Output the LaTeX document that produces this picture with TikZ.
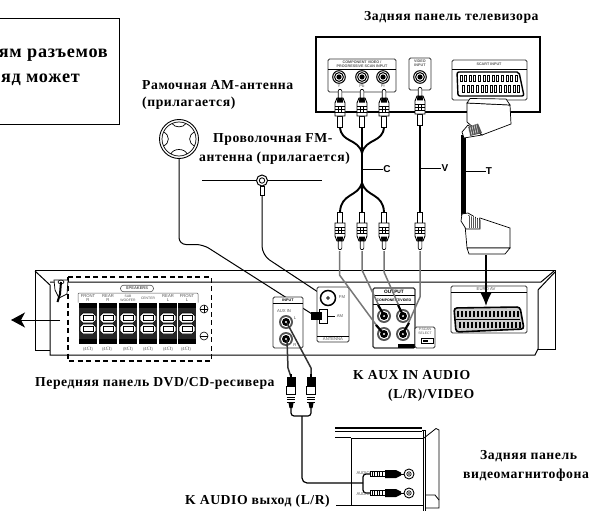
\documentclass[tikz,border=0pt]{standalone}
\usepackage{fontspec}
\setmainfont{Liberation Serif}
\setsansfont{Liberation Sans}
\newfontfamily\lblfont[LetterSpace=4]{Liberation Serif}
\usetikzlibrary{arrows.meta}
\definecolor{wiregray}{HTML}{777777}
\definecolor{panelgray}{HTML}{555555}
\tikzset{
  x=1pt,y=-1pt,
  lbl/.style={font=\lblfont\bfseries\fontsize{13.7}{15}\selectfont,text=black,inner sep=0pt,anchor=west},
  big/.style={font=\lblfont\bfseries\fontsize{18.2}{20}\selectfont,text=black,inner sep=0pt,anchor=east},
  cab/.style={font=\sffamily\bfseries\fontsize{10}{11}\selectfont,inner sep=0pt},
  tiny/.style={font=\sffamily\fontsize{4.2}{4.2}\selectfont,inner sep=0pt,align=center,text=panelgray},
  tinyb/.style={font=\sffamily\bfseries\fontsize{3.7}{3.9}\selectfont,inner sep=0pt,align=center},
  body/.style={draw=black,line width=1pt},
  panel/.style={draw=black!80,fill=white,line width=.8pt,rounded corners=1.5pt},
  graywire/.style={draw=wiregray,line width=1.5pt},
  wire/.style={draw=black,line width=1pt},
  blackwire/.style={draw=black,line width=1.9pt},
  plugend/.style={draw=black,line width=2.2pt},
  rca/.pic={
    \draw[fill=white,line width=.6pt] (-2.7,0) rectangle (2.7,11);
    \draw[fill=white,line width=.9pt] (-5,11) -- (5,11) -- (5,24) -- (3,29) -- (-3,29) -- (-5,24) -- cycle;
    \draw[line width=.7pt] (-5,15) -- (5,15) (-5,18) -- (5,18) (-5,21) -- (5,21);
    \draw[line width=.5pt] (-1.7,15) -- (-1.7,21) (1.7,15) -- (1.7,21);
    \fill (-3,24.5) -- (3,24.5) -- (2.6,29) -- (-2.6,29) -- cycle;
    \draw[fill=white,line width=.6pt] (-1.8,29) -- (1.8,29) -- (1.8,36) -- (1,37.5) -- (-1,37.5) -- (-1.8,36) -- cycle;
  },
  rcadark/.pic={
    \fill (-1,-3) rectangle (1,0);
    \fill (-4.5,0) rectangle (4.5,9);
    \draw[fill=white,line width=.6pt] (-4.5,9) rectangle (4.5,17);
    \foreach \ry in {17.5,20,22.5,25}{\draw[line width=1pt] (-4.2,\ry) -- (4.2,\ry);}
    \fill (-2.5,26) -- (2.5,26) -- (1.5,31) -- (-1.5,31) -- cycle;
  },
  jack/.pic={
    \draw[fill=white,line width=1pt] (0,0) circle (6.3);
    \draw[line width=1pt] (0,0) circle (4.4);
    \fill (0,0) circle (2.6);
  },
  jackb/.pic={
    \fill[panelgray] (0,0) circle (7);
    \fill[white] (0,0) circle (5.2);
    \fill[black] (0,0) circle (4);
    \fill[white] (0,0) circle (1.2);
  },
  terminal/.pic={
    \fill[black!85] (-8.7,0) rectangle (8.7,41);
    \fill[black] (-8.7,0) rectangle (8.7,5);
    \fill[black] (-8.7,36) rectangle (8.7,41);
    \foreach \ry in {10,21}{
      \draw[fill=white,draw=black,line width=.7pt] (-8,\ry+3) -- (-5,\ry) -- (5,\ry) -- (8,\ry+3) -- (8,\ry+7) -- (5,\ry+10) -- (-5,\ry+10) -- (-8,\ry+7) -- cycle;
      \draw[fill=white,line width=.9pt] (-5,\ry+2.8) rectangle (5,\ry+7.2);
    }
  },
}
\begin{document}
\begin{tikzpicture}
\useasboundingbox (0,0) rectangle (592,511);

% cropped note box
\draw[line width=.8pt] (0,18) -- (119,18) -- (119,124) -- (0,124);
\node[big] (note1) at (108,55) {ям разъемов};
\node[big] (note2) at (80,80) {яд может};

% labels
\node[lbl] (tvlabel) at (364,17) {Задняя панель телевизора};
\node[lbl] (amlabel1) at (142,85) {Рамочная AM-антенна};
\node[lbl] (amlabel2) at (142,103) {(прилагается)};
\node[lbl] (fmlabel1) at (213,139) {Проволочная FM-};
\node[lbl] (fmlabel2) at (199,158) {антенна (прилагается)};
\node[lbl] (frontlabel) at (35,383) {Передняя панель DVD/CD-ресивера};
\node[lbl] (auxlabel1) at (353,375) {K AUX IN AUDIO};
\node[lbl] (auxlabel2) at (388,395) {(L/R)/VIDEO};
\node[lbl] (vcrlabel1) at (480,456) {Задняя панель};
\node[lbl] (vcrlabel2) at (463,475) {видеомагнитофона};
\node[lbl,anchor=east] (audiolabel) at (330,501) {K AUDIO выход (L/R)};

% TV panel
\draw[line width=1.2pt] (316,37) rectangle (540,112);
\node[panel,minimum width=68pt,minimum height=33pt] (compbox) at (362,75.5) {};
\draw[line width=.6pt] (328,69) -- (396,69);
\node[tinyb,text=panelgray] (compt) at (362,64.5) {COMPONENT VIDEO /\\PROGRESSIVE SCAN INPUT};
\node[panel,minimum width=22pt,minimum height=32pt] (videobox) at (420,74) {};
\node[tinyb,text=panelgray] (videot) at (420,63) {VIDEO\\INPUT};
\node[panel,minimum width=75pt,minimum height=40pt] (scartbox) at (489.5,80) {};
\draw[line width=.6pt] (452,69.5) -- (527,69.5);
\node[tinyb,text=panelgray] (scartt) at (489,64.5) {SCART INPUT};
\draw[line width=1.4pt,rounded corners=2pt,fill=white] (457,72) -- (519,72) -- (524,96) -- (458,96) -- cycle;
\foreach \px in {461,465.6,470.2,474.8,479.4,484,488.6,493.2,497.8,502.4,507,511.6,516}{
  \draw[line width=.8pt,fill=white] (\px-1,75) rectangle (\px+1,81);
}
\foreach \px in {463.5,468.1,472.7,477.3,481.9,486.5,491.1,495.7,500.3,504.9,509.5,514.1,518.7}{
  \draw[line width=.8pt,fill=white] (\px-1,85) rectangle (\px+1,92);
}
\pic at (339,77) {jack};
\pic at (362,77) {jack};
\pic at (383,77) {jack};
\pic at (420,77) {jack};
\node[tiny] (ty) at (339,86) {Y};
\node[tiny] (tpb) at (362,86) {Pb};
\node[tiny] (tpr) at (383,86) {Pr};

% Receiver body
\draw[body] (35,350) -- (35,270) -- (555,270) -- (555,349) -- (538,349);
\draw[body] (35,350) -- (50,350);
\draw[body] (35,271) -- (50,285) -- (50,355) -- (535,355) -- (538,349) -- (538,290) -- (555,272);
\draw[body] (50,282) -- (541,282) -- (554,271);

% Antenna wires (behind panels)
\coordinate (amstem) at (179,158);
\coordinate (fmstem) at (262,195);
\coordinate (amplug) at (312,314);
\coordinate (fmplug) at (327,298);

\draw[wire,rounded corners=7pt] (amstem) -- (179,244.5) -- (203,244.5) -- (amplug);
\draw[wire,rounded corners=9pt] (fmstem) -- (262,255) -- (fmplug);

% AM loop
\draw[line width=.9pt,fill=white] (179,139) circle (19.5);
\draw[line width=.7pt] (179,139) circle (17);
\draw[line width=.7pt] (172,123.5) .. controls (175,128) and (183,128) .. (186,123.5);
\draw[line width=.7pt] (171,154) .. controls (173,148) and (185,148) .. (187,154);
\draw[line width=.7pt] (163.5,132) .. controls (170,135) and (170,143) .. (163.5,146);
\draw[line width=.7pt] (194.5,132) .. controls (188,135) and (188,143) .. (194.5,146);
% FM dipole
\draw[line width=1pt] (202,180.5) -- (256,180.5);
\draw[line width=1pt] (268,180.5) -- (322,180.5);
\draw[line width=.8pt,fill=white] (260,186) rectangle (264,195);
\draw[line width=1pt,fill=white] (262,180.5) circle (5.5);
\draw[line width=.8pt] (262,180.5) circle (2.7);

% Input panel
\node[panel,minimum width=30pt,minimum height=51pt] (inputbox) at (288,322.5) {};
\draw[line width=.6pt] (273,303) -- (303,303);
\node[tinyb] (inputt) at (288,300) {INPUT};
\node[tiny] (auxin) at (284,311.5) {AUX IN};
\node[tiny] (auxl) at (295,318) {L};
\node[tiny] (auxr) at (295,345) {R};
\pic at (286,322) {jackb};
\pic at (286,339) {jackb};

% Antenna panel
\node[panel,minimum width=32pt,minimum height=55pt] (antbox) at (333,314.5) {};
\draw[line width=.6pt] (317,336) -- (349,336);
\node[tiny] (antt) at (333,339) {ANTENNA};
\draw[line width=1.5pt,fill=white] (328,298) circle (7.5);
\draw[line width=.7pt] (328,298) circle (1.3);
\node[tiny] (fmt) at (342,297) {FM};
\draw[line width=.6pt,fill=white] (319,309) rectangle (327,323);
\draw[line width=.6pt] (327,316) -- (335,316);
\node[tiny] (amt) at (340,316) {AM};
\fill (311,312) rectangle (322,320);

% Output panel
\node[panel,line width=1.1pt,minimum width=42pt,minimum height=60pt] (outbox) at (394,318) {};
\draw[line width=.8pt] (373,295) -- (415,295);
\draw[line width=.5pt] (373,304) -- (415,304);
\node[tinyb,font=\sffamily\bfseries\fontsize{4.8}{5}\selectfont] (outt) at (394,291.5) {OUTPUT};
\node[tinyb,font=\sffamily\bfseries\fontsize{3.5}{4}\selectfont] (compvt) at (394,300) {COMPONENT/VIDEO};
\fill (398,343.5) rectangle (415,348);
\pic at (384,316) {jackb};
\pic at (403,316) {jackb};
\pic at (384,334) {jackb};
\pic at (403,334) {jackb};
\node[panel,minimum width=20pt,minimum height=21pt] (progbox) at (425,337.5) {};
\node[tiny,font=\sffamily\fontsize{3.4}{3.6}\selectfont] (progt) at (425,331.5) {P.SCAN\\SELECT};
\draw[line width=.6pt,fill=white] (421,338.5) rectangle (433,343);
\fill (423,339.5) rectangle (428,342);

% Receiver SCART
\node[panel,minimum width=76pt,minimum height=47pt] (euro) at (489,309.5) {};
\draw[line width=.7pt] (451,292.5) -- (527,292.5);
\node[tiny] (eurot) at (486,289) {EURO AV};
\draw[line width=1.6pt,fill=gray!40,rounded corners=3pt] (454,308) -- (520,307) -- (524,329) -- (456,332) -- cycle;
\foreach \px in {457,461,...,517}{
  \fill (\px,311) rectangle (\px+2.2,317);
  \fill (\px+2,322) rectangle (\px+4.2,328);
}
\draw[line width=.8pt] (456,319.5) -- (520,319.5);

% Speakers
\draw[dashed,line width=1.1pt,dash pattern=on 5pt off 3.5pt] (68,277) rectangle (211.5,361);
\node[draw=panelgray,rounded corners=3pt,line width=.6pt,minimum width=33pt,minimum height=6.5pt,inner sep=0pt,font=\sffamily\bfseries\fontsize{4}{4}\selectfont,text=panelgray] (spk) at (137,288.5) {SPEAKERS};
\draw[panelgray,line width=.5pt,rounded corners=1pt] (78,302.5) -- (78,293) -- (198,293) -- (198,302.5);
\node[tiny] (s1) at (88,298) {FRONT\\R};
\node[tiny] (s2) at (108,298) {REAR\\R};
\node[tiny,font=\sffamily\fontsize{3.4}{3.8}\selectfont] (s3) at (128,298) {SUB\\WOOFER};
\node[tiny,font=\sffamily\fontsize{3.4}{3.8}\selectfont] (s4) at (148,298) {CENTER};
\node[tiny] (s5) at (168,298) {REAR\\L};
\node[tiny] (s6) at (187,298) {FRONT\\L};
\pic at (88,303) {terminal};
\pic at (108,303) {terminal};
\pic at (128,303) {terminal};
\pic at (148,303) {terminal};
\pic at (168,303) {terminal};
\pic at (187,303) {terminal};
\node[tiny] (o1) at (88,349) {(4$\Omega$)};
\node[tiny] (o2) at (107,349) {(4$\Omega$)};
\node[tiny] (o3) at (128,349) {(8$\Omega$)};
\node[tiny] (o4) at (148,349) {(4$\Omega$)};
\node[tiny] (o5) at (168,349) {(4$\Omega$)};
\node[tiny] (o6) at (186,349) {(4$\Omega$)};
\draw[line width=.6pt] (204,309) circle (4);
\draw[line width=.6pt] (200,309) -- (208,309) (204,305) -- (204,313);
\draw[line width=.6pt] (204,336) circle (4);
\draw[line width=.6pt] (200,336) -- (208,336);

% Power cord
\draw[line width=.7pt,fill=white] (54,280) -- (68,280) -- (67,294) -- (59,298) -- (55,290) -- cycle;
\draw[line width=2pt] (61,282) -- (60,294) -- (57.5,302);
\draw[line width=.6pt] (61,282) ellipse (3 and 2);
% Arrow out
\coordinate (arrowa) at (60,320);
\coordinate (arrowb) at (11,320);
\draw[line width=1pt,-{Stealth[length=14pt,width=15pt,inset=4pt]}] (arrowa) -- (arrowb);

% Component cable
\coordinate (p1top) at (340,127);
\coordinate (p2top) at (362,127);
\coordinate (p3top) at (384,127);
\coordinate (mergeT) at (362,153);
\coordinate (mergeB) at (362,183);
\coordinate (p1bot) at (340,212);
\coordinate (p2bot) at (362,212);
\coordinate (p3bot) at (384,212);
\draw[blackwire] (p1top) .. controls (341,143) and (358,138) .. (mergeT);
\draw[blackwire] (p3top) .. controls (383,143) and (366,138) .. (mergeT);
\draw[blackwire] (p2top) -- (p2bot);
\draw[line width=2.8pt] (mergeT) -- (mergeB);
\draw[blackwire] (mergeB) .. controls (358,197) and (341,193) .. (p1bot);
\draw[blackwire] (mergeB) .. controls (366,197) and (383,193) .. (p3bot);
\pic[yscale=-1] at (340,127) {rca};
\pic[yscale=-1] at (362,127) {rca};
\pic[yscale=-1] at (384,127) {rca};
\pic at (340,212) {rca};
\pic at (362,212) {rca};
\pic at (384,212) {rca};

% Video cable
\coordinate (vtop) at (420,125);
\coordinate (vbot) at (420,212);
\draw[blackwire] (vtop) -- (vbot);
\pic[yscale=-1] at (420,125) {rca};
\pic at (420,212) {rca};

% Gray wires to receiver, each with a dark plug end in its jack
\coordinate (g1) at (339.5,251);
\coordinate (g2) at (362,251);
\coordinate (g3) at (384,251);
\coordinate (g4) at (420,251);
\draw[graywire] (g1) -- (339.5,275) -- (377,326);
\draw[graywire] (g2) -- (362,270) -- (379,306);
\draw[graywire] (g3) -- (384,272) -- (399,306);
\draw[graywire] (g4) -- (420,297) -- (408,324);
\draw[plugend] (376,325) -- (383,333);
\draw[plugend] (378,305) -- (384,315);
\draw[plugend] (398,305) -- (403,315);
\draw[plugend] (409,323) -- (403,333);

% SCART cable
\draw[line width=4.2pt] (463.5,135) -- (463.5,216);
% top plug
\draw[line width=.7pt,fill=white] (467,103) -- (510,105) -- (511,124) -- (482,135) -- (467,122) -- cycle;
\draw[line width=.7pt,fill=white] (467,103) -- (470,98.5) -- (506,99) -- (510,105) -- cycle;
\draw[line width=.7pt,fill=white] (468,125) -- (482,135) -- (464,138) -- (462,132) -- cycle;
\fill[panelgray] (468,127) -- (478,123.5) -- (482,133) -- (470,136) -- cycle;
\foreach \cc in {0,2,4,6,8}{\draw[white,line width=.4pt] (468+\cc,127.5-.4*\cc) -- (470+\cc,136-.4*\cc);}
% bottom plug
\draw[line width=.7pt,fill=white] (465,225) -- (480,218) -- (510,228) -- (510,248) -- (467,248) -- cycle;
\draw[line width=.7pt,fill=white] (467,248) -- (510,248) -- (505,254) -- (469,254) -- cycle;
\draw[line width=.7pt,fill=white] (462,214) -- (468,213) -- (480,220) -- (480,229) -- (466,229) -- (461,221) -- cycle;
\fill[panelgray] (468,215) -- (480,220) -- (480,228) -- (468,228) -- cycle;
\foreach \cc in {0,2,4,6,8,10}{\draw[white,line width=.4pt] (468+\cc,216) -- (468+\cc,228);}
% SCART arrow
\coordinate (sca) at (486,255);
\coordinate (scb) at (486,306);
\draw[line width=1.3pt,-{Latex[length=13pt,width=11pt]}] (sca) -- (scb);

% Cable letters
\node[cab] (clab) at (387,169) {C};
\draw[line width=.7pt] (362,169) -- (clab.west);
\node[cab] (vlab) at (445,168) {V};
\draw[line width=.7pt] (421,168) -- (vlab.west);
\node[cab] (tlab) at (489,171) {T};
\draw[line width=.7pt] (465,171) -- (tlab.west);

% AUX cords
\coordinate (auxL) at (287,323);
\coordinate (auxR) at (287,340);
\coordinate (yp1) at (291,377);
\coordinate (yp2) at (311,377);
\draw[line width=1.5pt,panelgray!60!black] (auxR) -- (288,368) -- (yp1);
\draw[line width=1.5pt,panelgray!60!black] (auxL) -- (311,368) -- (yp2);
\pic at (291,377) {rcadark};
\pic at (311,377) {rcadark};
% Y cable
\coordinate (yjoin) at (302,416);
\draw[line width=1.2pt,rounded corners=3pt] (291,407) -- (291,416) -- (311,416) -- (311,407);
\coordinate (vcrnode) at (363,483);
\draw[line width=1.2pt,rounded corners=5pt] (yjoin) -- (302,483) -- (vcrnode);
\draw[line width=1.2pt,rounded corners=3pt] (370,474) -- (363,474) -- (363,493) -- (370,493);

% VCR
\draw[line width=1.3pt] (335,428) -- (422,428);
\draw[line width=.7pt] (335,431) -- (422,431);
\draw[line width=.7pt] (335,437) -- (351,437);
\draw[line width=.8pt] (351,438) -- (423,438);
\draw[line width=.8pt] (351,438) -- (351,505);
\draw[line width=.8pt] (336,505) -- (423,505);
\draw[line width=.9pt] (422,430) -- (425,430) -- (425,511);
\draw[line width=.8pt] (423,430) -- (423,511);
\draw[line width=.8pt] (424,438) -- (436,428.5) -- (439,430) -- (439,508) -- (425,508);
\draw[line width=.8pt] (426,495) -- (435,495) -- (439,500);
% VCR plugs
\foreach \py in {474,493}{
  \draw[line width=.6pt,fill=white] (370,\py-2.5) rectangle (385,\py+2.5);
  \foreach \qx in {372,374.5,...,384}{\draw[line width=.9pt] (\qx,\py-2.5) -- (\qx,\py+2.5);}
  \fill (385,\py-4) -- (396,\py-4) -- (401,\py-1.5) -- (401,\py+1.5) -- (396,\py+4) -- (385,\py+4) -- cycle;
  \draw[line width=1pt] (401,\py) -- (404,\py);
  \draw[line width=.9pt,fill=white] (409,\py) circle (5);
  \draw[line width=.7pt] (409,\py) circle (2.2);
  \fill (409,\py) circle (.9);
}
\node[tiny,anchor=east] (au1) at (370,473) {AUDIO};
\node[tiny,anchor=east] (au2) at (370,494) {AUDIO};
\end{tikzpicture}
\end{document}
